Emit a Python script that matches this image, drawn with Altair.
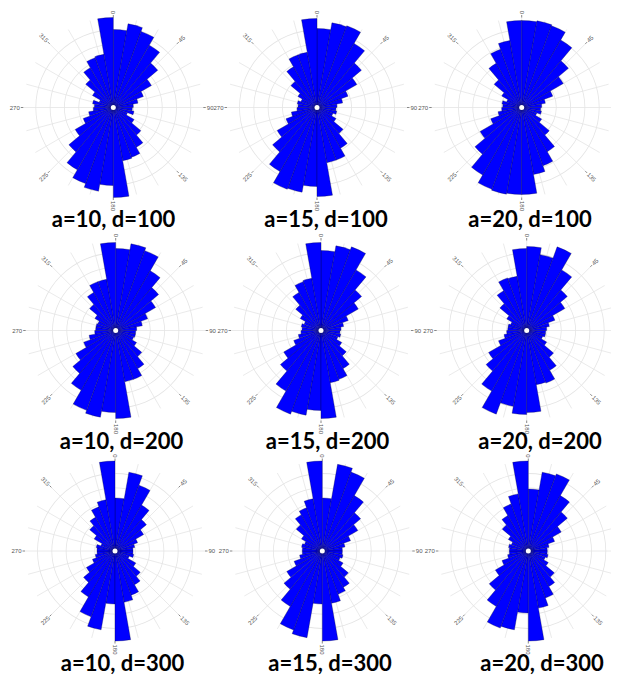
import altair as alt
import numpy as np
import pandas as pd

# ---------------- data ----------------
# Start angle (degrees clockwise from north) of each 10-degree bin.
# The rose is axial: every bin is repeated at +180 degrees.
bin_start = list(range(0, 180, 10))

# bar length of each bin (0-10, 10-20, ..., 170-180), same units as the rings
a10_d100 = [78, 85, 81, 72, 58, 44, 32, 25, 20, 19, 21, 15, 24, 36, 46, 53, 54, 90]
a15_d100 = [79, 86, 87, 74, 58, 46, 33, 26, 20, 19, 20, 17, 22, 34, 47, 56, 56, 89]
a20_d100 = [87, 88, 87, 78, 61, 48, 33, 24, 20, 19, 20, 16, 23, 36, 51, 62, 68, 87]
a10_d200 = [82, 88, 85, 69, 56, 46, 34, 27, 21, 20, 20, 19, 24, 34, 44, 52, 52, 88]
a15_d200 = [80, 86, 89, 70, 53, 43, 29, 23, 20, 19, 20, 18, 24, 33, 44, 52, 53, 88]
a20_d200 = [84, 77, 89, 70, 53, 44, 30, 23, 20, 19, 19, 17, 23, 35, 46, 56, 55, 82]
a10_d300 = [53, 80, 70, 53, 41, 33, 24, 20, 18, 18, 19, 15, 24, 33, 39, 47, 52, 90]
a15_d300 = [53, 88, 84, 64, 50, 41, 30, 23, 20, 20, 21, 19, 24, 34, 42, 46, 53, 90]
a20_d300 = [62, 80, 82, 64, 51, 38, 28, 21, 19, 19, 20, 18, 23, 34, 41, 50, 58, 90]

panel_titles = ["a=10, d=100", "a=15, d=100", "a=20, d=100",
                "a=10, d=200", "a=15, d=200", "a=20, d=200",
                "a=10, d=300", "a=15, d=300", "a=20, d=300"]
panel_values = [a10_d100, a15_d100, a20_d100,
                a10_d200, a15_d200, a20_d200,
                a10_d300, a15_d300, a20_d300]

ring_radii = [6.4, 20.7, 35.0, 49.3, 63.6, 77.9]
spoke_angles = list(range(0, 360, 15))
label_angles = [0, 45, 90, 135, 180, 225, 270, 315]
label_texts = ["0", "45", "90", "135", "180", "225", "270", "315"]

# ---------------- layout (chart pixels, origin at top-left of the plot) ----------------
W, H = 603, 667
circle_cx = [105.3, 309.0, 513.7, 107.7, 313.0, 518.7, 107.0, 314.3, 520.3]
circle_cy = [99.5, 99.5, 99.5, 322.5, 322.5, 322.5, 543.0, 543.0, 543.0]
title_cx = [105.5, 318.0, 522.0, 113.5, 319.5, 532.0, 114.5, 322.0, 534.0]
title_cy = [211.5, 211.5, 211.5, 433.5, 433.5, 433.5, 656.0, 656.0, 656.0]

BLUE = "#0000FF"
GRID = "#e4e4e4"
TXT = "#555555"
TWO_PI = 2 * np.pi

# ---------------- tables built from the arrays ----------------
bar_rows, ring_rows, spoke_rows, label_rows = [], [], [], []
for i, vals in enumerate(panel_values):
    cx, cy = circle_cx[i], circle_cy[i]
    for b, v in zip(bin_start, vals):
        for off in (0, 180):
            bar_rows.append({"cx": cx, "cy": cy, "start": b + off, "end": b + off + 10, "r": v})
    for r in ring_radii:
        ring_rows.append({"cx": cx, "cy": cy, "r": r})
    for a in spoke_angles:
        spoke_rows.append({"cx": cx, "cy": cy, "deg": a})
    for a, t in zip(label_angles, label_texts):
        label_rows.append({"cx": cx, "cy": cy, "deg": a, "txt": t})

bars_df = pd.DataFrame(bar_rows)
rings_df = pd.DataFrame(ring_rows)
spokes_df = pd.DataFrame(spoke_rows)
labels_df = pd.DataFrame(label_rows)
titles_df = pd.DataFrame({"t": panel_titles, "tx": title_cx, "ty": title_cy})
centers_df = pd.DataFrame({"cx": circle_cx, "cy": circle_cy})

xs = alt.Scale(domain=[0, W], nice=False, zero=False)
ys = alt.Scale(domain=[0, H], reverse=True, nice=False, zero=False)
th = alt.Scale(domain=[0, 360], range=[0, TWO_PI])
rs = alt.Scale(type="linear", domain=[0, 100], range=[0, 100], zero=True, nice=False)

X = lambda f: alt.X(f, scale=xs, axis=None)
Y = lambda f: alt.Y(f, scale=ys, axis=None)

# grid circles drawn as thin filled rings
rings = alt.Chart(rings_df).transform_calculate(
    r_in="datum.r - 0.8"
).mark_arc(fill=GRID, strokeWidth=0).encode(
    x=X("cx:Q"), y=Y("cy:Q"),
    radius=alt.Radius("r:Q", scale=rs), radius2="r_in:Q",
    theta=alt.value(0), theta2=alt.value(TWO_PI))

spokes = alt.Chart(spokes_df).transform_calculate(
    x1="datum.cx + 90*sin(datum.deg*PI/180)", y1="datum.cy - 90*cos(datum.deg*PI/180)"
).mark_rule(color=GRID, strokeWidth=0.8).encode(
    x=X("cx:Q"), y=Y("cy:Q"), x2="x1:Q", y2="y1:Q")

ticks = alt.Chart(labels_df).transform_calculate(
    x0="datum.cx + 90*sin(datum.deg*PI/180)", y0="datum.cy - 90*cos(datum.deg*PI/180)",
    x1="datum.cx + 92.5*sin(datum.deg*PI/180)", y1="datum.cy - 92.5*cos(datum.deg*PI/180)"
).mark_rule(color=TXT, strokeWidth=0.7).encode(
    x=X("x0:Q"), y=Y("y0:Q"), x2="x1:Q", y2="y1:Q")

lab_pos = dict(lx="datum.cx + 93.5*sin(datum.deg*PI/180)",
               ly="datum.cy - 93.5*cos(datum.deg*PI/180)")
labs_r = alt.Chart(labels_df).transform_filter("datum.deg <= 180").transform_calculate(
    rot="(datum.deg + 270) % 360", **lab_pos
).mark_text(align="left", baseline="middle", fontSize=6, color=TXT,
            font="Liberation Sans").encode(
    x=X("lx:Q"), y=Y("ly:Q"), text="txt:N", angle=alt.Angle("rot:Q", scale=None))

labs_l = alt.Chart(labels_df).transform_filter("datum.deg > 180").transform_calculate(
    rot="(datum.deg + 90) % 360", **lab_pos
).mark_text(align="right", baseline="middle", fontSize=6, color=TXT,
            font="Liberation Sans").encode(
    x=X("lx:Q"), y=Y("ly:Q"), text="txt:N", angle=alt.Angle("rot:Q", scale=None))

bars = alt.Chart(bars_df).mark_arc(fill=BLUE, stroke="#000030", strokeWidth=0.3).encode(
    x=X("cx:Q"), y=Y("cy:Q"),
    theta=alt.Theta("start:Q", scale=th, stack=None), theta2="end:Q",
    radius=alt.Radius("r:Q", scale=rs))

hole = alt.Chart(centers_df).mark_arc(fill="white").encode(
    x=X("cx:Q"), y=Y("cy:Q"), radius=alt.value(2.5),
    theta=alt.value(0), theta2=alt.value(TWO_PI))

titles = alt.Chart(titles_df).mark_text(
    font="Lato", fontSize=22, fontWeight="bold", color="black",
    align="center", baseline="middle").encode(x=X("tx:Q"), y=Y("ty:Q"), text="t:N")

chart = alt.layer(rings, spokes, ticks, labs_r, labs_l, bars, hole, titles).properties(
    width=W, height=H, padding=0,
    autosize=alt.AutoSizeParams(type="none"),
).configure_view(stroke=None)

chart.save("out.html", embed_options={"renderer": "svg", "actions": False})
